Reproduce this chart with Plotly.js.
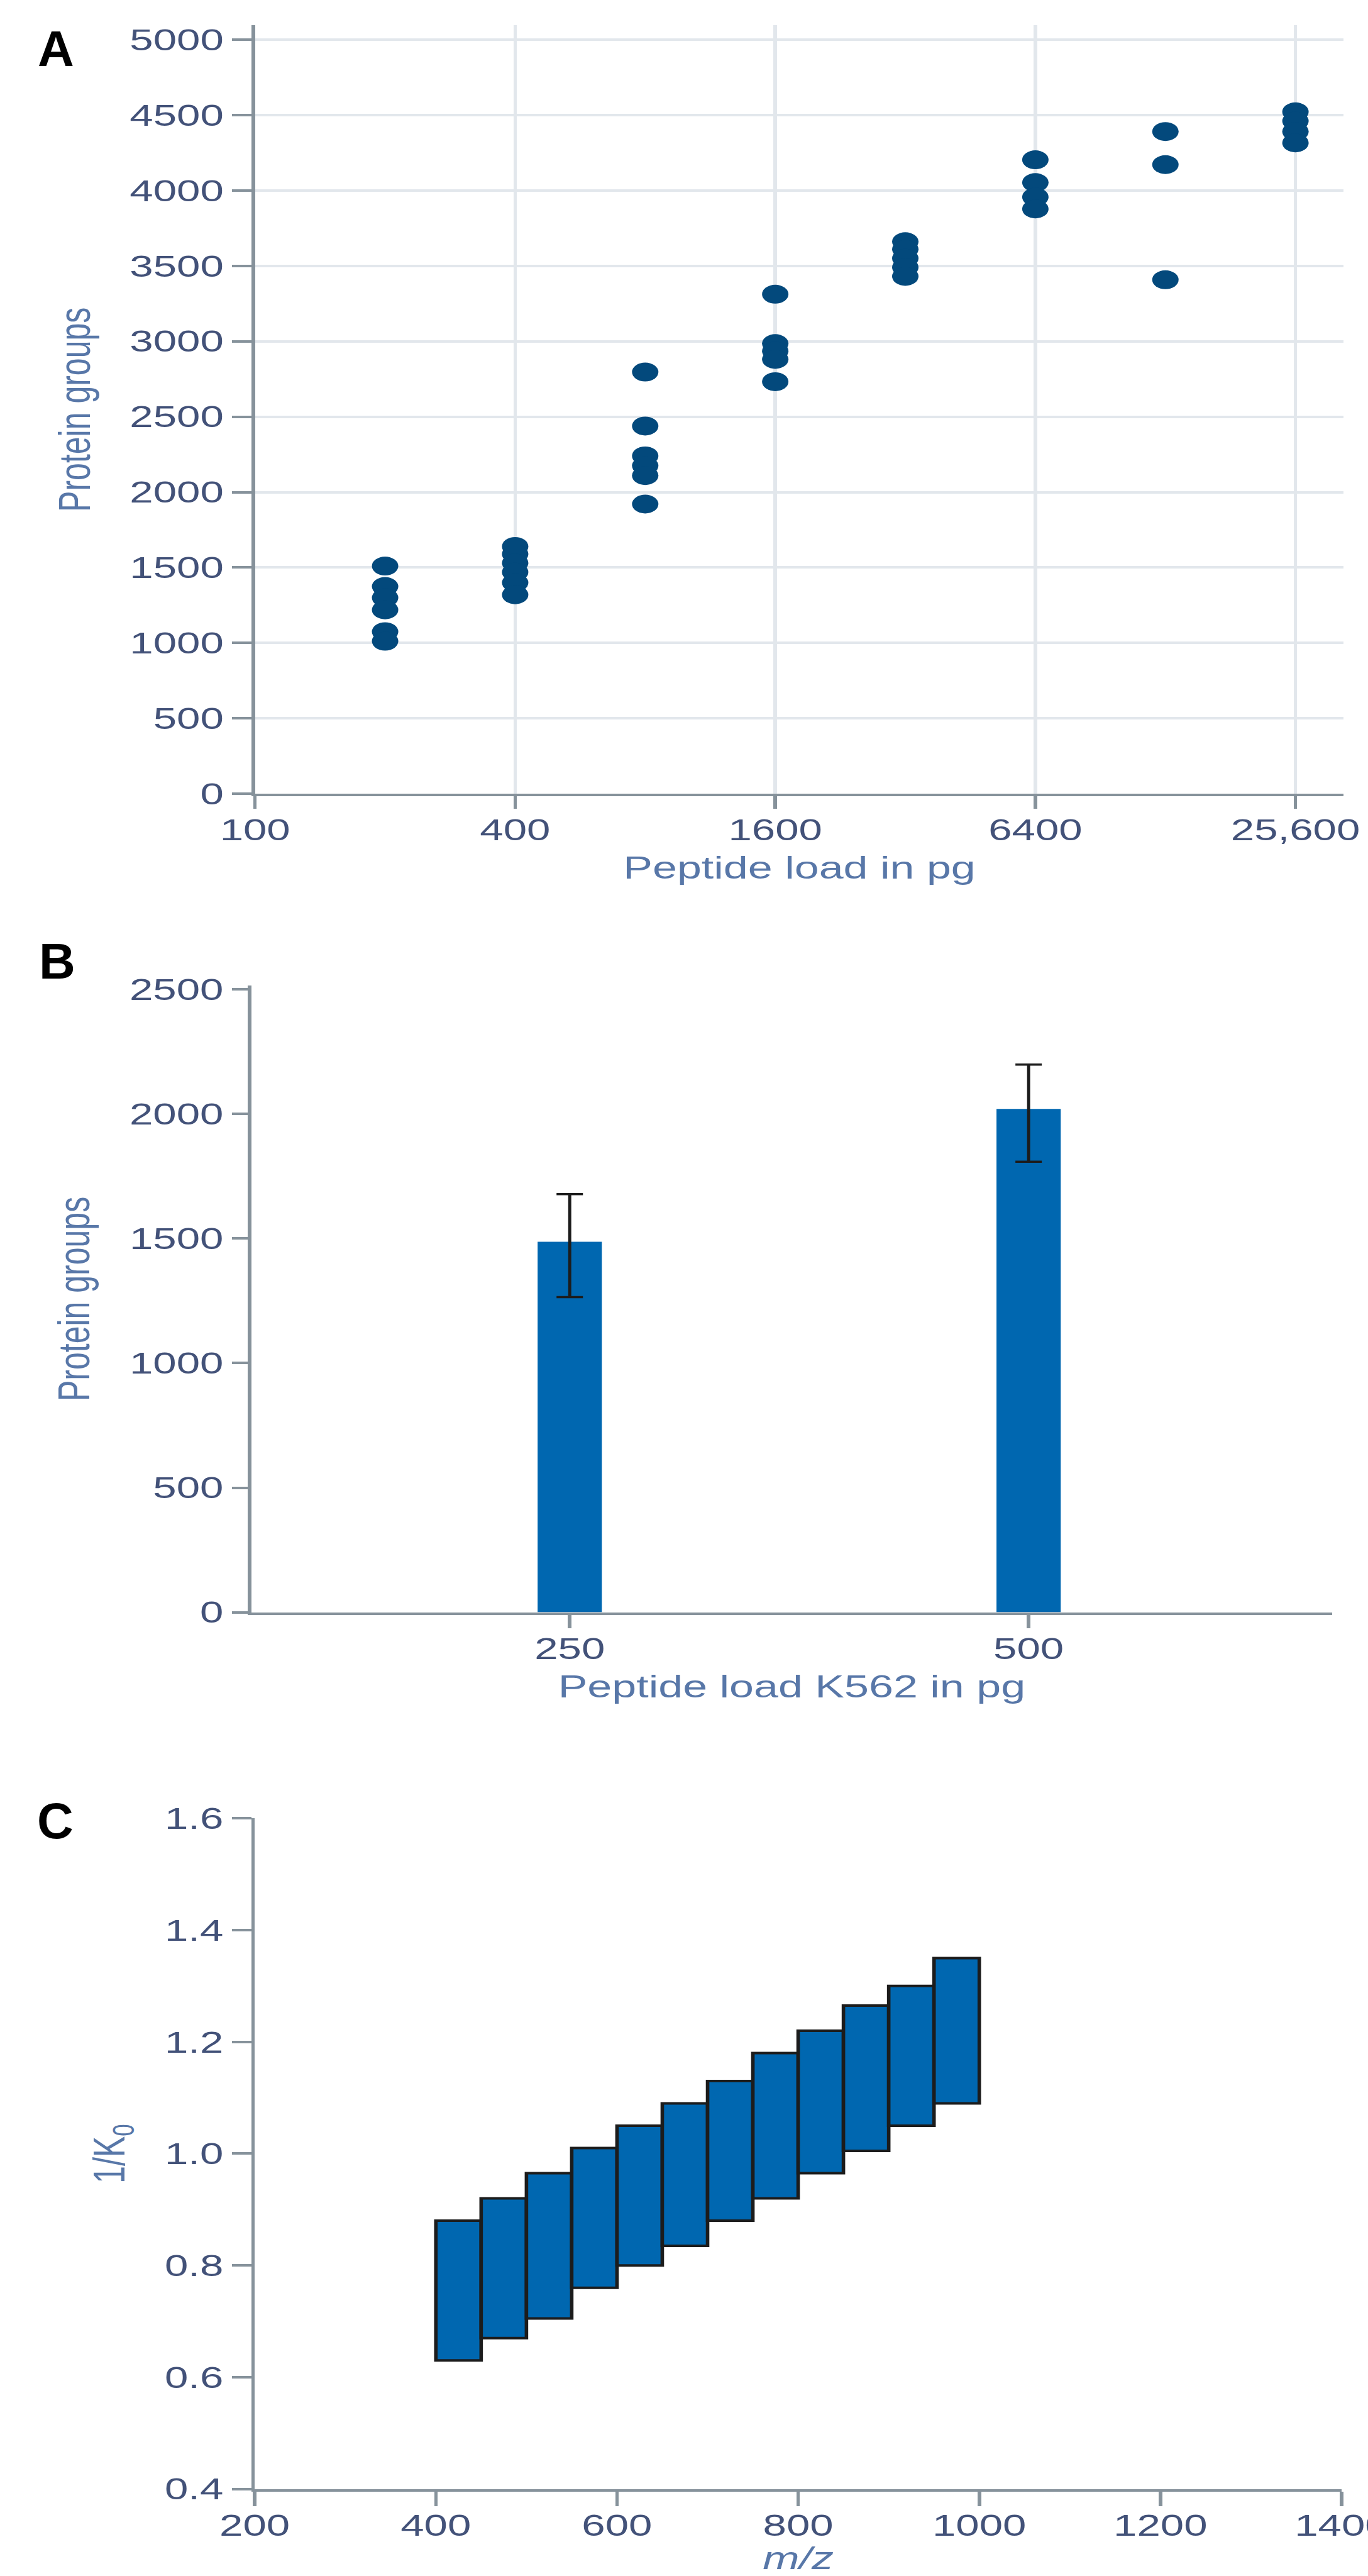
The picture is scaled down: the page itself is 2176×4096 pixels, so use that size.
<!DOCTYPE html>
<html>
<head>
<meta charset="utf-8">
<script src="https://cdn.plot.ly/plotly-3.0.1.min.js"></script>
<style>
  html, body { margin: 0; padding: 0; background: #ffffff; overflow: hidden; }
  #wrap { position: relative; width: 2176px; height: 4096px; overflow: hidden; background: #fff; }
  #chart { position: absolute; left: 0; top: 0; width: 1554px; height: 4096px;
           transform: scaleX(1.400257); transform-origin: 0 0; }
  .panel { position: absolute; font-family: "Liberation Sans", Arial, sans-serif; font-weight: bold;
           font-size: 80px; line-height: 80px; color: #000; }
</style>
</head>
<body>
<div id="wrap">
  <div id="chart"></div>
  <div class="panel" style="left:60px; top:38px;">A</div>
  <div class="panel" style="left:62px; top:1489px;">B</div>
  <div class="panel" style="left:59px; top:2856px;">C</div>
</div>
<script>
// ---------- Panel A: protein groups vs peptide load (log x) ----------
const loadPg = [
  200, 200, 200, 200, 200, 200,
  400, 400, 400, 400, 400, 400,
  800, 800, 800, 800, 800, 800,
  1600, 1600, 1600, 1600, 1600,
  3200, 3200, 3200, 3200, 3200,
  6400, 6400, 6400, 6400,
  12800, 12800, 12800,
  25600, 25600, 25600, 25600
];
const proteinGroupsA = [
  1510, 1375, 1300, 1220, 1075, 1012,
  1640, 1590, 1530, 1470, 1400, 1320,
  2796, 2438, 2240, 2175, 2110, 1921,
  3312, 2985, 2935, 2880, 2732,
  3660, 3610, 3550, 3490, 3430,
  4203, 4052, 3956, 3877,
  4390, 4171, 3408,
  4521, 4460, 4390, 4315
];
const loadTickVals = [100, 400, 1600, 6400, 25600];
const loadTickText = ['100', '400', '1600', '6400', '25,600'];

// ---------- Panel B: K562 bars with error bars ----------
const k562Load = ['250', '500'];
const k562Groups = [1487, 2020];
const k562ErrPlus = [191, 178];
const k562ErrMinus = [222, 212];

// ---------- Panel C: dia-PASEF windows ----------
const windowStartMz = [400, 450, 500, 550, 600, 650, 700, 750, 800, 850, 900, 950];
const windowMzWidth = 50;
const windowK0Low  = [0.63, 0.67, 0.705, 0.76, 0.80, 0.835, 0.88, 0.92, 0.965, 1.005, 1.05, 1.09];
const windowK0High = [0.88, 0.92, 0.965, 1.01, 1.05, 1.09, 1.13, 1.18, 1.22, 1.265, 1.30, 1.35];

// ---------- styling ----------
const REF_W = 2537, REF_H = 4775;
const fx = v => v / REF_W;
const fy = v => 1 - v / REF_H;
const GRID = '#e2e7ec', AXIS = '#86929b', TICK = '#435279', TITLE = '#5877a8';
const MARKER = '#03497c', BAR = '#0067b0', OUTLINE = '#1c1c1c';
const FONT = 'Liberation Sans, Arial, sans-serif';
const tickFont = {family: FONT, size: 48, color: TICK};
const titleFont = {family: FONT, size: 50, color: TITLE};

const traces = [
  {
    type: 'scatter', mode: 'markers', x: loadPg, y: proteinGroupsA,
    xaxis: 'x', yaxis: 'y',
    marker: {color: MARKER, size: 30, line: {width: 0}},
    hoverinfo: 'skip'
  },
  {
    type: 'bar', x: k562Load, y: k562Groups, xaxis: 'x2', yaxis: 'y2',
    width: 0.14,
    marker: {color: BAR, line: {width: 0}},
    error_y: {type: 'data', symmetric: false, array: k562ErrPlus, arrayminus: k562ErrMinus,
              color: OUTLINE, thickness: 3.5, width: 15},
    hoverinfo: 'skip'
  },
  {
    type: 'bar', x: windowStartMz,
    y: windowK0High.map((h, i) => h - windowK0Low[i]),
    base: windowK0Low,
    width: windowMzWidth, offset: 0,
    xaxis: 'x3', yaxis: 'y3',
    marker: {color: BAR, line: {color: OUTLINE, width: 4}},
    hoverinfo: 'skip'
  }
];

const baseAxis = {
  showline: true, linecolor: AXIS, linewidth: 4,
  ticks: 'outside', tickcolor: AXIS, tickwidth: 4,
  tickfont: tickFont, zeroline: false, automargin: false
};

const layout = {
  width: 1554, height: 4096, autosize: false,
  margin: {l: 0, r: 0, t: 0, b: 0, pad: 0},
  paper_bgcolor: '#ffffff', plot_bgcolor: 'rgba(0,0,0,0)',
  showlegend: false,
  font: {family: FONT, color: TICK},
  xaxis: Object.assign({}, baseAxis, {
    domain: [fx(473), fx(2492)], anchor: 'y', type: 'log', range: [2, 4.52],
    tickmode: 'array', tickvals: loadTickVals, ticktext: loadTickText,
    showgrid: true, gridcolor: GRID, gridwidth: 4, ticklen: 20,
    ticklabeloverflow: 'allow', ticklabelstandoff: -8,
    title: {text: 'Peptide load in pg', font: titleFont, standoff: 18}
  }),
  yaxis: Object.assign({}, baseAxis, {
    domain: [fy(1471.6), fy(47)], anchor: 'x', range: [0, 5094],
    tickmode: 'linear', tick0: 0, dtick: 500,
    showgrid: true, gridcolor: GRID, gridwidth: 4, ticklen: 22,
    title: {text: 'Protein groups', font: titleFont, standoff: 30}
  }),
  xaxis2: Object.assign({}, baseAxis, {
    domain: [fx(466), fx(2470.7)], anchor: 'y2', type: 'category',
    range: [-0.694, 1.6617], showgrid: false, ticklen: 21,
    ticklabelstandoff: -8,
    title: {text: 'Peptide load K562 in pg', font: titleFont, standoff: 18}
  }),
  yaxis2: Object.assign({}, baseAxis, {
    domain: [fy(2988.6), fy(1827)], anchor: 'x2', range: [0, 2515],
    tickmode: 'linear', tick0: 0, dtick: 500, showgrid: false, ticklen: 18,
    title: {text: 'Protein groups', font: titleFont, standoff: 30}
  }),
  xaxis3: Object.assign({}, baseAxis, {
    domain: [fx(472.4), fx(2488)], anchor: 'y3', range: [200, 1400],
    tickmode: 'linear', tick0: 200, dtick: 200, showgrid: false, ticklen: 23,
    ticklabeloverflow: 'allow', ticklabelstandoff: -10,
    title: {text: 'm/z', font: Object.assign({}, titleFont, {style: 'italic'}), standoff: 40}
  }),
  yaxis3: Object.assign({}, baseAxis, {
    domain: [fy(4613.6), fy(3370.6)], anchor: 'x3', range: [0.4, 1.6],
    tickmode: 'linear', tick0: 0.4, dtick: 0.2, tickformat: '.1f', showgrid: false, ticklen: 22,
    title: {text: '1/K<sub>0</sub>', font: titleFont, standoff: 30}
  })
};

Plotly.newPlot('chart', traces, layout, {staticPlot: true, displayModeBar: false});
</script>
</body>
</html>
